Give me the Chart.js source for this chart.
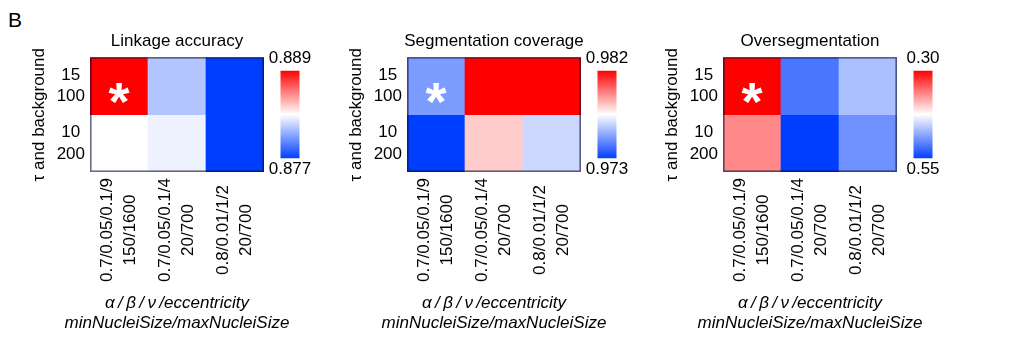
<!DOCTYPE html>
<html>
<head>
<meta charset="utf-8">
<script src="https://cdn.jsdelivr.net/npm/chart.js@4.4.1/dist/chart.umd.min.js"></script>
<style>
  body { margin: 0; background: #fff; }
  #fig { position: relative; width: 1026px; height: 345px; overflow: hidden; font-family: 'Liberation Sans', Arial, sans-serif; }
  #fig canvas { position: absolute; top: 0; }
  .panel-letter { position: absolute; left: 8px; top: 9px; font-size: 21px; line-height: 21px; }
</style>
</head>
<body>
<div id="fig">
  <div class="panel-letter">B</div>
</div>
<script>
// columns: alpha/beta/nu/eccentricity + min/max nuclei size
const colLabels = [
    ['0.7/0.05/0.1/9', '150/1600'],
    ['0.7/0.05/0.1/4', '20/700'],
    ['0.8/0.01/1/2', '20/700']
];
// rows: tau + background
const rowLabels = [['15', '100'], ['10', '200']];

const panelTitles = ['Linkage accuracy', 'Segmentation coverage', 'Oversegmentation'];

// cell values, one row per tau/background setting
const linkageAccuracy = [[0.889, 0.8812, 0.877], [0.883, 0.8826, 0.877]];
const segmentationCoverage = [[0.9752, 0.982, 0.982], [0.973, 0.9784, 0.9766]];
const oversegmentation = [[0.30, 0.514, 0.466], [0.367, 0.55, 0.496]];

// colour scale ends (top = red end, bottom = blue end)
const scaleTop = [0.889, 0.982, 0.30];
const scaleBottom = [0.877, 0.973, 0.55];
const scaleDigits = [3, 3, 2];

// chosen setting, marked with a star: [row, col]
const bestCell = [0, 0];

const panels = [linkageAccuracy, segmentationCoverage, oversegmentation];
const panelLeft = [0, 317, 633];

const FONT = "'Liberation Sans', Arial, sans-serif";
Chart.defaults.font.family = FONT;
Chart.defaults.font.size = 17;
Chart.defaults.color = '#000';

const BLUE = [0, 62, 255];
const WHITE = [255, 255, 255];
const RED = [255, 0, 0];

function mix(a, b, f) {
    return a.map((c, i) => Math.round(c + (b[i] - c) * f));
}

function heatColor(t) {
    t = Math.max(0, Math.min(1, t));
    const c = t < 0.5 ? mix(BLUE, WHITE, t * 2) : mix(WHITE, RED, (t - 0.5) * 2);
    return `rgb(${c.join(',')})`;
}

function addCanvas(left, width, height) {
    const c = document.createElement('canvas');
    c.width = width;
    c.height = height;
    c.style.left = left + 'px';
    c.style.width = width + 'px';
    c.style.height = height + 'px';
    document.getElementById('fig').appendChild(c);
    return c;
}

// frame, star and the rotated two-line column labels
const heatmapExtras = {
    id: 'heatmapExtras',
    afterDatasetsDraw(chart) {
        const { ctx, chartArea: a, scales: { x, y } } = chart;
        ctx.save();
        ctx.strokeStyle = 'rgba(10, 10, 50, 0.6)';
        ctx.lineWidth = 1.6;
        ctx.strokeRect(Math.round(a.left) + 0.8, Math.round(a.top) + 0.8,
            Math.round(a.width) - 1.6, Math.round(a.height) - 1.6);

        ctx.fillStyle = '#fff';
        ctx.font = `bold 54px ${FONT}`;
        ctx.textAlign = 'center';
        ctx.textBaseline = 'alphabetic';
        ctx.fillText('*', x.getPixelForValue(bestCell[1]), y.getPixelForValue(bestCell[0] + 0.5) + 34);

        ctx.fillStyle = '#000';
        ctx.font = `17px ${FONT}`;
        ctx.textBaseline = 'middle';
        colLabels.forEach((lines, i) => {
            const cx = x.getPixelForValue(i);
            lines.forEach((txt, j) => {
                ctx.save();
                ctx.translate(cx + (j - (lines.length - 1) / 2) * 23, a.bottom + 58);
                ctx.rotate(-Math.PI / 2);
                ctx.fillText(txt, 0, 0);
                ctx.restore();
            });
        });
        ctx.restore();
    }
};

function drawHeatmap(p) {
    const values = panels[p];
    const lo = scaleBottom[p], hi = scaleTop[p];
    new Chart(addCanvas(panelLeft[p], 354, 345), {
        type: 'bar',
        data: {
            labels: colLabels.map(l => l.join(' ')),
            datasets: rowLabels.map((row, r) => ({
                label: row.join(' '),
                data: values[r].map(() => 1),
                backgroundColor: values[r].map(v => heatColor((v - lo) / (hi - lo))),
                borderWidth: 0,
                barPercentage: 1,
                categoryPercentage: 1
            }))
        },
        options: {
            responsive: false,
            animation: false,
            layout: { padding: { left: 29, right: 29, top: 31, bottom: 0 } },
            plugins: {
                legend: { display: false },
                tooltip: { enabled: false },
                title: {
                    display: true,
                    text: panelTitles[p],
                    font: { size: 17, weight: 'normal', lineHeight: 1.2 },
                    padding: { top: 0, bottom: 6 }
                },
                subtitle: {
                    display: true,
                    position: 'bottom',
                    text: ['\u03b1\u2009/\u2009\u03b2\u2009/\u2009\u03bd\u2009/eccentricity', 'minNucleiSize/maxNucleiSize'],
                    font: { size: 17, style: 'italic', lineHeight: 20 / 17 },
                    padding: { top: 0, bottom: 12 }
                }
            },
            scales: {
                x: {
                    stacked: true,
                    grid: { display: false, drawTicks: false },
                    border: { display: false },
                    ticks: { display: false },
                    afterFit: s => { s.height = 121; }
                },
                y: {
                    stacked: true,
                    reverse: true,
                    min: 0,
                    max: rowLabels.length,
                    grid: { display: false, drawTicks: false },
                    border: { display: false },
                    afterBuildTicks: s => { s.ticks = rowLabels.map((_, i) => ({ value: i + 0.5 })); },
                    ticks: {
                        callback: (v, i) => rowLabels[i],
                        crossAlign: 'center',
                        padding: 5,
                        autoSkip: false,
                        font: { size: 17, lineHeight: 1.25 }
                    },
                    title: { display: true, text: '\u03c4 and background', font: { size: 17 }, padding: 0 },
                    afterFit: s => { s.width = 61; }
                },
                // empty axis on the right so the titles centre over the cells
                yRight: {
                    position: 'right',
                    grid: { display: false, drawTicks: false },
                    border: { display: false },
                    ticks: { display: false },
                    afterFit: s => { s.width = 61; }
                }
            }
        },
        plugins: [heatmapExtras]
    });
}

function drawColorbar(p) {
    const lo = scaleBottom[p], hi = scaleTop[p];
    const centre = panelLeft[p] + 264 + 25.5;
    new Chart(addCanvas(centre - 40, 80, 200), {
        type: 'bar',
        data: {
            labels: [''],
            datasets: [{
                data: [[lo, hi]],
                backgroundColor: ({ chart }) => {
                    const a = chart.chartArea;
                    if (!a) return heatColor(0.5);
                    const g = chart.ctx.createLinearGradient(0, a.bottom, 0, a.top);
                    for (let k = 0; k <= 10; k++) g.addColorStop(k / 10, heatColor(k / 10));
                    return g;
                },
                borderWidth: 0,
                barPercentage: 19 / 80,
                categoryPercentage: 1
            }]
        },
        options: {
            responsive: false,
            animation: false,
            layout: { padding: { left: 0, right: 0, top: 48, bottom: 20 } },
            plugins: {
                legend: { display: false },
                tooltip: { enabled: false },
                title: {
                    display: true,
                    text: hi.toFixed(scaleDigits[p]),
                    font: { size: 17, weight: 'normal', lineHeight: 1.2 },
                    padding: { top: 0, bottom: 2 }
                },
                subtitle: {
                    display: true,
                    position: 'bottom',
                    text: lo.toFixed(scaleDigits[p]),
                    font: { size: 17, lineHeight: 1.2 },
                    padding: { top: 1, bottom: 0 }
                }
            },
            scales: {
                x: { display: false },
                y: { display: false, min: Math.min(lo, hi), max: Math.max(lo, hi), reverse: lo > hi }
            }
        }
    });
}

panels.forEach((_, p) => drawHeatmap(p));
panels.forEach((_, p) => drawColorbar(p));
</script>
</body>
</html>
